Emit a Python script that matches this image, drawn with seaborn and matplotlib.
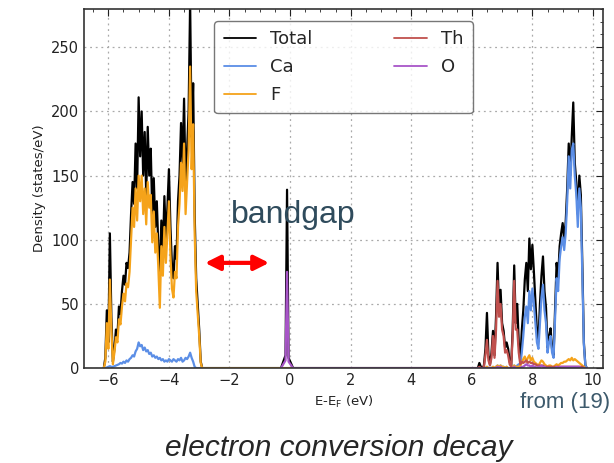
import numpy as np
import pandas as pd
import matplotlib
matplotlib.use('Agg')
import matplotlib.pyplot as plt
from matplotlib.ticker import MultipleLocator
import seaborn as sns

# valence band (E in eV, densities in states/eV)
vb_energy = [-6.15, -6.10, -6.05, -6.00, -5.95, -5.90, -5.85, -5.80, -5.75, -5.70,
             -5.65, -5.60, -5.55, -5.50, -5.45, -5.40, -5.35, -5.30, -5.25, -5.20,
             -5.15, -5.10, -5.05, -5.00, -4.95, -4.90, -4.85, -4.80, -4.75, -4.70,
             -4.65, -4.60, -4.55, -4.50, -4.45, -4.40, -4.35, -4.30, -4.25, -4.20,
             -4.15, -4.10, -4.05, -4.00, -3.95, -3.90, -3.85, -3.80, -3.75, -3.70,
             -3.65, -3.60, -3.55, -3.50, -3.45, -3.40, -3.35, -3.30, -3.25, -3.20,
             -3.15, -3.10, -3.05, -3.00, -2.95, -2.90]
vb_total = [0, 8, 45, 20, 105, 40, 5, 15, 30, 25,
            48, 42, 60, 72, 65, 82, 78, 90, 120, 145,
            128, 175, 140, 211, 165, 200, 150, 184, 135, 188,
            150, 171, 120, 148, 110, 130, 95, 75, 115, 90,
            134, 100, 125, 155, 110, 80, 70, 95, 85, 130,
            150, 191, 160, 210, 140, 170, 200, 285, 180, 222,
            120, 70, 50, 30, 5, 0]
vb_f = [0, 5, 35, 15, 69, 30, 3, 12, 24, 20,
        38, 34, 48, 58, 52, 66, 63, 75, 100, 125,
        110, 140, 115, 150, 130, 150, 120, 140, 112, 145,
        125, 135, 98, 122, 90, 105, 78, 47, 95, 72,
        110, 82, 105, 130, 88, 62, 55, 75, 70, 110,
        128, 160, 138, 175, 120, 145, 170, 235, 155, 190,
        105, 60, 42, 25, 4, 0]
vb_ca = [0, 0, 0.5, 1, 1.5, 1, 1, 1.5, 2, 2.5,
         3, 4, 3.5, 5, 4, 6, 5, 7, 8, 10,
         9, 13, 15, 20, 17, 18, 14, 16, 13, 14,
         11, 12, 9, 10, 8, 9, 7, 8, 6, 7,
         5, 6, 5, 7, 6, 5, 7, 6, 5, 7,
         6, 8, 5, 6, 8, 7, 9, 12, 8, 5,
         1, 0, 0, 0, 0, 0]

# O peak just below the Fermi level
op_energy = [-0.30, -0.15, -0.10, -0.05, 0.10]
op_total = [0, 10, 139, 8, 0]
op_o = [0, 6, 75, 5, 0]

# conduction band
cb_energy = [6.20, 6.25, 6.30, 6.35, 6.40, 6.45, 6.50, 6.55, 6.60, 6.65,
             6.70, 6.75, 6.80, 6.85, 6.90, 6.95, 7.00, 7.05, 7.10, 7.15,
             7.20, 7.25, 7.30, 7.35, 7.40, 7.45, 7.50, 7.55, 7.60, 7.65,
             7.70, 7.75, 7.80, 7.85, 7.90, 7.95, 8.00, 8.05, 8.10, 8.15,
             8.20, 8.25, 8.30, 8.35, 8.40, 8.45, 8.50, 8.55, 8.60, 8.65,
             8.70, 8.75, 8.80, 8.85, 8.90, 8.95, 9.00, 9.05, 9.10, 9.15,
             9.20, 9.25, 9.30, 9.35, 9.40, 9.45, 9.50, 9.55, 9.60, 9.65,
             9.70, 9.75, 9.80]
cb_total = [0, 4, 1, 0, 2, 15, 43, 10, 3, 12,
            29, 10, 40, 82, 45, 61, 35, 29, 16, 20,
            15, 5, 2, 30, 80, 35, 50, 20, 5, 29,
            45, 69, 82, 60, 101, 77, 96, 75, 52, 29,
            21, 50, 72, 87, 60, 47, 16, 25, 31, 15,
            10, 47, 82, 70, 95, 105, 113, 100, 114, 140,
            175, 150, 180, 207, 160, 145, 120, 150, 135, 80,
            20, 2, 0]
cb_ca = [0, 0, 0, 0, 0, 0, 1, 0, 0, 0,
         1, 0, 1, 2, 1, 2, 1, 1, 0, 1,
         0, 0, 0, 1, 2, 1, 2, 3, 2, 12,
         25, 40, 48, 35, 60, 45, 62, 50, 35, 20,
         15, 35, 55, 65, 45, 35, 12, 20, 25, 12,
         8, 40, 70, 60, 85, 95, 102, 92, 105, 130,
         165, 140, 170, 175, 150, 135, 110, 140, 125, 72,
         18, 2, 0]
cb_f = [0, 0, 0, 0, 0, 0, 1, 0, 0, 0,
        1, 0, 1, 2, 1, 2, 1, 1, 0, 1,
        0, 0, 0, 1, 2, 1, 1, 1, 2, 4,
        7, 9, 5, 8, 10, 6, 8, 5, 4, 3,
        2, 4, 6, 5, 3, 2, 1, 2, 2, 1,
        1, 2, 3, 2, 3, 4, 4, 5, 5, 6,
        7, 6, 8, 6, 7, 6, 5, 4, 3, 2,
        1, 0, 0]
cb_th = [0, 1, 0, 0, 1, 10, 22, 6, 2, 8,
         25, 8, 30, 68, 40, 50, 30, 25, 12, 14,
         10, 3, 1, 25, 68, 30, 30, 12, 3, 5,
         4, 5, 6, 4, 5, 4, 4, 3, 3, 2,
         2, 2, 2, 2, 1, 1, 1, 1, 1, 1,
         1, 1, 1, 1, 1, 1, 1, 1, 1, 1,
         1, 1, 1, 1, 1, 1, 1, 1, 1, 1,
         0, 0, 0]
cb_o = [0, 0, 0, 0, 0, 0, 0, 0, 0, 0,
        0, 0, 0, 1, 0, 1, 0, 0, 0, 0,
        0, 0, 0, 0, 1, 0, 0, 0, 0, 1,
        1, 2, 3, 2, 2, 1, 2, 1, 1, 0,
        1, 1, 2, 1, 1, 0, 0, 0, 0, 0,
        0, 0, 1, 0, 1, 1, 1, 1, 1, 1,
        1, 1, 1, 1, 1, 1, 1, 1, 0, 0,
        0, 0, 0]

names = ['Total', 'Ca', 'F', 'Th', 'O']
colors = ['black', '#5b8ee6', '#f5a31a', '#c0504d', '#a855c8']

series = {
    'Total': (vb_energy + op_energy + cb_energy, vb_total + op_total + cb_total),
    'Ca': (vb_energy + cb_energy, vb_ca + cb_ca),
    'F': (vb_energy + cb_energy, vb_f + cb_f),
    'Th': (cb_energy, cb_th),
    'O': (op_energy + cb_energy, op_o + cb_o),
}
frames = [pd.DataFrame({'E': e, 'D': d, 'series': k}) for k, (e, d) in series.items()]
df = pd.concat(frames, ignore_index=True)

sns.set_style('white')
plt.rcParams['font.family'] = ['DejaVu Sans']

fig = plt.figure(figsize=(6.14, 4.63), dpi=100)
ax = fig.add_axes([0.137, 0.205, 0.845, 0.776])
sns.lineplot(data=df, x='E', y='D', hue='series', hue_order=names,
             palette=dict(zip(names, colors)), estimator=None, sort=False,
             lw=1.6, ax=ax)

ax.set_xlim(-6.8, 10.33)
ax.set_ylim(0, 280)
ax.xaxis.set_major_locator(MultipleLocator(2))
ax.xaxis.set_minor_locator(MultipleLocator(0.5))
ax.yaxis.set_major_locator(MultipleLocator(50))
ax.yaxis.set_minor_locator(MultipleLocator(10))
ax.tick_params(which='both', direction='in', top=True, right=True, colors='#222222')
ax.tick_params(which='major', length=5, labelsize=10.5)
ax.tick_params(which='minor', length=2.5)
ax.grid(True, which='major', ls=(0, (1.5, 3)), color='#aaaaaa', lw=0.9)
for s in ax.spines.values():
    s.set_color('#333333')
    s.set_linewidth(1.2)

ax.set_xlabel('E-E$_\\mathrm{F}$ (eV)', fontsize=9.5, color='#222222')
ax.set_ylabel('Density (states/eV)', fontsize=9.5, color='#222222')

handles, labels = ax.get_legend_handles_labels()
for h in handles:
    h.set_linewidth(1.3)
ax.legend(handles, labels, ncol=2, loc='upper center', bbox_to_anchor=(0.5, 0.99),
          fontsize=13, frameon=True, edgecolor='#555555', fancybox=True,
          handlelength=1.8, columnspacing=4.5, labelspacing=0.55, borderpad=0.5)

ax.annotate('', xy=(-0.6, 82), xytext=(-2.9, 82),
            arrowprops=dict(arrowstyle='<|-|>', color='red', lw=3, mutation_scale=22))
ax.text(-1.95, 119, 'bandgap', fontsize=23, color='#2f4b5c', va='center',
        family='Liberation Sans')

fig.text(0.847, 0.13, 'from (19)', fontsize=16, color='#3d5a6c', va='center',
         family='Liberation Sans')
fig.text(0.552, 0.015, 'electron conversion decay', fontsize=21.5, style='italic',
         ha='center', va='baseline', family='Liberation Sans')

fig.savefig('out.png', dpi=100)
